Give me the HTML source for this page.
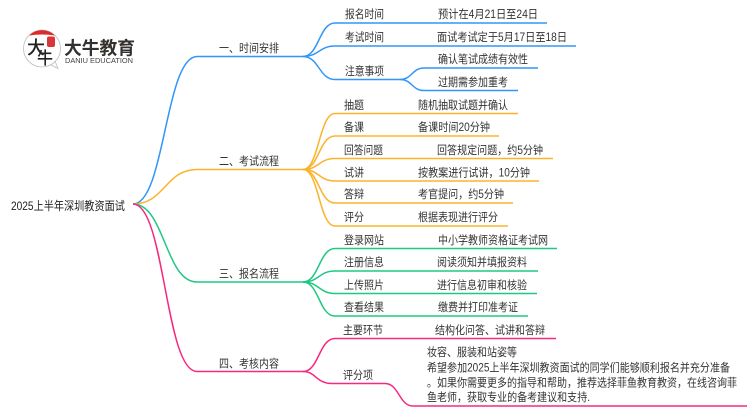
<!DOCTYPE html>
<html><head><meta charset="utf-8">
<style>
html,body{margin:0;padding:0;background:#fff;width:750px;height:410px;overflow:hidden}
svg{display:block}
text{font-family:"Liberation Sans","Noto Sans CJK SC",sans-serif;font-size:11.5px;fill:#333}
path{fill:none}
.b{stroke:#3096fa;stroke-width:1.5}
.o{stroke:#fbb32c;stroke-width:1.5}
.g{stroke:#1fc882;stroke-width:1.5}
.p{stroke:#f7287f;stroke-width:1.5}
</style></head><body>
<svg width="750" height="410" viewBox="0 0 750 410" xmlns="http://www.w3.org/2000/svg">
<rect width="750" height="410" fill="#fff"/>
<!-- logo -->
<circle cx="42" cy="48.500" r="18.500" fill="#fff" stroke="#bdbdbd" stroke-width="0.8"/>
<path d="M51 65 L58 68.500 L55 61" stroke="#bdbdbd" stroke-width="0.8" fill="#fff"/>
<path d="M29 35.500 A18.500 18.500 0 0 1 55 35.500 Q42 33.500 29 35.500Z" style="fill:#dd2a2a"/>
<rect x="47" y="36.500" width="8" height="10.500" rx="2" style="fill:#d9363a"/>
<text x="27" y="54" textLength="18" lengthAdjust="spacingAndGlyphs" style="font-size:18px;font-weight:500;fill:#222">大</text>
<text x="37" y="64" textLength="16" lengthAdjust="spacingAndGlyphs" style="font-size:17px;font-weight:500;fill:#222">牛</text>
<text x="64" y="54.500" textLength="71" lengthAdjust="spacingAndGlyphs" style="font-size:18px;font-weight:700;fill:#33302e">大牛教育</text>
<text x="65" y="63" textLength="68" lengthAdjust="spacingAndGlyphs" style="font-size:7px;fill:#3f3f3f">DANIU EDUCATION</text>
<!-- root -->
<text transform="translate(11,210) scale(0.846,1)" x="0" y="0" style="font-size:12px;fill:#222">2025上半年深圳教资面试</text>
<!-- level 1 -->
<path class="b" d="M133 204 C165 204 165 57 197 56.500 H303"/>
<path class="o" d="M133 204 C165 204 165 169.500 197 169.500 H303"/>
<path class="g" d="M133 204 C165 204 165 282 197 282 H303"/>
<path class="p" d="M133 204 C165 204 165 371.500 197 371.500 H303"/>
<!-- blue -->
<path class="b" d="M303 56.500 C319 56.500 319 23 335 23 H547"/>
<path class="b" d="M303 56.500 C319 56.500 319 46 335 46 H576"/>
<path class="b" d="M303 56.500 C319 56.500 319 79.500 335 79.500 H400"/>
<path class="b" d="M400 79.500 C412 79.500 412 68 424 68 H538"/>
<path class="b" d="M400 79.500 C412 79.500 412 90.500 424 90.500 H518"/>
<!-- orange -->
<path class="o" d="M303 169.500 C319 169.500 319 113.500 335 113.500 H518"/>
<path class="o" d="M303 169.500 C319 169.500 319 136 335 136 H499"/>
<path class="o" d="M303 169.500 C319 169.500 319 158.500 335 158.500 H553"/>
<path class="o" d="M303 169.500 C319 169.500 319 181 335 181 H539"/>
<path class="o" d="M303 169.500 C319 169.500 319 203 335 203 H513"/>
<path class="o" d="M303 169.500 C319 169.500 319 226 335 226 H508"/>
<!-- green -->
<path class="g" d="M303 282 C319 282 319 248.500 335 248.500 H557"/>
<path class="g" d="M303 282 C319 282 319 271 335 271 H538"/>
<path class="g" d="M303 282 C319 282 319 293.500 335 293.500 H537"/>
<path class="g" d="M303 282 C319 282 319 316 335 316 H528"/>
<!-- pink -->
<path class="p" d="M303 371.500 C319 371.500 319 338.500 335 338.500 H556"/>
<path class="p" d="M303 371.500 C316 371.500 316 383.500 332 383.500 H385 C399 383.500 399 406 413 406 H747"/>
<g transform="translate(0,-1)">
<!-- level 1 labels -->
<text x="219" y="53" textLength="60" lengthAdjust="spacingAndGlyphs">一、时间安排</text>
<text x="219" y="166" textLength="60" lengthAdjust="spacingAndGlyphs">二、考试流程</text>
<text x="219" y="278.500" textLength="60" lengthAdjust="spacingAndGlyphs">三、报名流程</text>
<text x="219" y="368.500" textLength="60" lengthAdjust="spacingAndGlyphs">四、考核内容</text>
<!-- blue labels -->
<text x="345" y="19" textLength="39" lengthAdjust="spacingAndGlyphs">报名时间</text>
<text x="438" y="19" textLength="100" lengthAdjust="spacingAndGlyphs">预计在4月21日至24日</text>
<text x="345" y="42" textLength="39" lengthAdjust="spacingAndGlyphs">考试时间</text>
<text x="437" y="42" textLength="130" lengthAdjust="spacingAndGlyphs">面试考试定于5月17日至18日</text>
<text x="345" y="76" textLength="39" lengthAdjust="spacingAndGlyphs">注意事项</text>
<text x="438" y="64" textLength="90" lengthAdjust="spacingAndGlyphs">确认笔试成绩有效性</text>
<text x="438" y="87" textLength="70" lengthAdjust="spacingAndGlyphs">过期需参加重考</text>
<!-- orange labels -->
<text x="344" y="110" textLength="20" lengthAdjust="spacingAndGlyphs">抽题</text>
<text x="418" y="110" textLength="90" lengthAdjust="spacingAndGlyphs">随机抽取试题并确认</text>
<text x="344" y="132" textLength="20" lengthAdjust="spacingAndGlyphs">备课</text>
<text x="418" y="132" textLength="72" lengthAdjust="spacingAndGlyphs">备课时间20分钟</text>
<text x="344" y="155" textLength="39" lengthAdjust="spacingAndGlyphs">回答问题</text>
<text x="437" y="155" textLength="106" lengthAdjust="spacingAndGlyphs">回答规定问题，约5分钟</text>
<text x="344" y="177.500" textLength="20" lengthAdjust="spacingAndGlyphs">试讲</text>
<text x="418" y="177.500" textLength="112" lengthAdjust="spacingAndGlyphs">按教案进行试讲，10分钟</text>
<text x="344" y="199" textLength="20" lengthAdjust="spacingAndGlyphs">答辩</text>
<text x="418" y="199" textLength="86" lengthAdjust="spacingAndGlyphs">考官提问，约5分钟</text>
<text x="344" y="222" textLength="20" lengthAdjust="spacingAndGlyphs">评分</text>
<text x="418" y="222" textLength="80" lengthAdjust="spacingAndGlyphs">根据表现进行评分</text>
<!-- green labels -->
<text x="344" y="245" textLength="40" lengthAdjust="spacingAndGlyphs">登录网站</text>
<text x="438" y="245" textLength="110" lengthAdjust="spacingAndGlyphs">中小学教师资格证考试网</text>
<text x="344" y="267" textLength="40" lengthAdjust="spacingAndGlyphs">注册信息</text>
<text x="437" y="267" textLength="90" lengthAdjust="spacingAndGlyphs">阅读须知并填报资料</text>
<text x="344" y="290" textLength="40" lengthAdjust="spacingAndGlyphs">上传照片</text>
<text x="437" y="290" textLength="90" lengthAdjust="spacingAndGlyphs">进行信息初审和核验</text>
<text x="344" y="312" textLength="40" lengthAdjust="spacingAndGlyphs">查看结果</text>
<text x="438" y="312" textLength="80" lengthAdjust="spacingAndGlyphs">缴费并打印准考证</text>
<!-- pink labels -->
<text x="343" y="335" textLength="40" lengthAdjust="spacingAndGlyphs">主要环节</text>
<text x="435" y="335" textLength="110" lengthAdjust="spacingAndGlyphs">结构化问答、试讲和答辩</text>
<text x="343" y="380" textLength="30" lengthAdjust="spacingAndGlyphs">评分项</text>
<text x="427" y="357" textLength="90" lengthAdjust="spacingAndGlyphs">妆容、服装和站姿等</text>
<text x="427" y="372.500" textLength="303" lengthAdjust="spacingAndGlyphs">希望参加2025上半年深圳教资面试的同学们能够顺利报名并充分准备</text>
<text x="427" y="387.500" textLength="310" lengthAdjust="spacingAndGlyphs">。如果你需要更多的指导和帮助，推荐选择菲鱼教育教资，在线咨询菲</text>
<text x="427" y="402" textLength="163" lengthAdjust="spacingAndGlyphs">鱼老师，获取专业的备考建议和支持.</text>
</g>
</svg>
</body></html>
